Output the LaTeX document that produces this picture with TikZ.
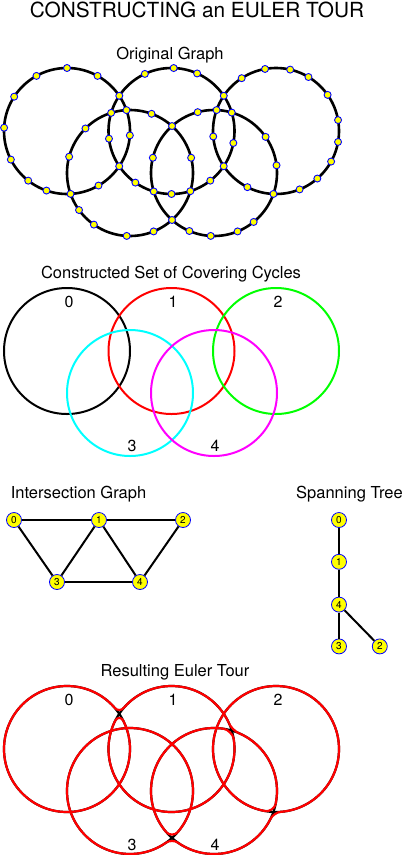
\documentclass[tikz,border=0pt]{standalone}
\usepackage{fontspec}
\setmainfont{TeX Gyre Heros}
\usetikzlibrary{calc, positioning, intersections}
\definecolor{pred}{RGB}{255,0,0}
\definecolor{pgreen}{RGB}{0,255,0}
\definecolor{pcyan}{RGB}{0,255,255}
\definecolor{pmagenta}{RGB}{255,0,255}
\definecolor{pyellow}{RGB}{255,255,0}
\definecolor{pblue}{RGB}{0,0,255}

\begin{document}
\begin{tikzpicture}[
    x=1pt, y=-1pt,
    title/.style={font=\fontsize{20.8}{24}\selectfont, anchor=base},
    caption/.style={font=\fontsize{16.5}{19}\selectfont, anchor=base},
    num/.style={font=\fontsize{16}{19}\selectfont, anchor=base},
    ring/.style={line width=2.6pt},
    cyc/.style={line width=2pt},
    tour/.style={line width=2.2pt},
    dot/.style={fill=pyellow, draw=pblue, line width=0.9pt},
    vtx/.style={circle, draw=pblue, fill=pyellow, line width=0.8pt, inner sep=0pt, minimum size=15pt, font=\fontsize{10}{10}\selectfont},
    edge/.style={line width=2pt}
]
    \useasboundingbox (0,0) rectangle (408,855);

    % 标题
    \node[title] (head) at (197,17.3) {CONSTRUCTING an EULER TOUR};

    % 原图
    \node[caption] (orig) at (170,59) {Original Graph};
    \foreach \i/\x/\y in {0/67/131, 1/171.5/131, 2/276/131, 3/130/173, 4/214/173}
        \draw[ring, name path global=g\i] (\x,\y) coordinate (g\i) circle (63pt);

    % 交点上的顶点
    \foreach \a/\b in {0/1, 1/2, 0/3, 1/3, 1/4, 2/4, 3/4} {
        \path[name intersections/.expanded={of=g\a\space and g\b, name=x\a\b}];
        \filldraw[dot] (x\a\b-1) circle (3.5pt) (x\a\b-2) circle (3.5pt);
    }

    % 圆上的其余顶点
    \foreach \i/\angs in {0/{61,90,119,147,177,207,232,251,300,356},
                          1/{66,88,115,187,235,270,308,349},
                          2/{10,35,59,77,100,123,185,243,292,311,331,350},
                          3/{14,70,135,165,216,235,267,292},
                          4/{7,35,105,166,247,267,292,309}}
        \foreach \t in \angs
            \filldraw[dot] ($(g\i)+(\t:63pt)$) circle (3.5pt);

    % 覆盖圈
    \node[caption] (cover) at (171,278) {Constructed Set of Covering Cycles};
    \foreach \i/\x/\y/\c in {0/67/351/black, 1/171.5/351/pred, 2/276/351/pgreen,
                             3/130/393/pcyan, 4/214/393/pmagenta}
        \draw[cyc, \c] (\x,\y) coordinate (k\i) circle (63pt);
    \foreach \i/\x/\y in {0/69/307, 1/173/307, 2/278/307, 3/132/451.5, 4/215/451.5}
        \node[num] (kl\i) at (\x,\y) {\i};

    % 交图
    \node[caption] (inter) at (78.5,498) {Intersection Graph};
    \node[vtx] (n0) at (14,520) {0};
    \node[vtx] (n1) at (99,520) {1};
    \node[vtx] (n2) at (183,520) {2};
    \node[vtx] (n3) at (57,582) {3};
    \node[vtx] (n4) at (140,582) {4};
    \foreach \a/\b in {0/1, 1/2, 0/3, 3/1, 1/4, 4/2, 3/4}
        \draw[edge] (n\a) -- (n\b);

    % 生成树
    \node[caption] (span) at (349.5,498) {Spanning Tree};
    \node[vtx] (t0) at (339,520) {0};
    \node[vtx, below=26pt of t0] (t1) {1};
    \node[vtx, below=27pt of t1] (t4) {4};
    \node[vtx, below=26pt of t4] (t3) {3};
    \node[vtx, right=25pt of t3] (t2) {2};
    \foreach \a/\b in {0/1, 1/4, 4/3, 4/2}
        \draw[edge] (t\a) -- (t\b);

    % 欧拉回路
    \node[caption] (euler) at (175,676.5) {Resulting Euler Tour};
    \foreach \i/\x/\y in {0/67/749, 1/171.5/749, 2/276/749, 3/130/791, 4/214/791}
        \draw[tour] (\x,\y) coordinate (e\i) circle (63pt);
    \foreach \i/\s/\e in {0/33.97/393.97, 1/17.04/146.03, 1/146.03/377.04,
                          2/267.65/627.65, 3/311.79/671.79, 4/73.65/228.21,
                          4/228.21/340.58, 4/340.58/433.65}
        \draw[tour, pred] ($(e\i)+(\s+7:63pt)$) arc[start angle=\s+7, end angle=\e-7, radius=63pt];
    % 拼接处
    \foreach \a/\ta/\da/\b/\tb/\db in {0/33.97/7/1/146.03/-7, 0/33.97/-7/1/146.03/7,
                                        4/73.65/7/1/17.04/-7, 1/17.04/7/4/73.65/-7,
                                        3/311.79/7/4/228.21/-7, 3/311.79/-7/4/228.21/7,
                                        4/340.58/7/2/267.65/-7, 4/340.58/-7/2/267.65/7} {
        \coordinate (sx) at ($(e\a)+(\ta:63pt)$);
        \coordinate (su) at ($(e\a)+(\ta+\da:63pt)$);
        \coordinate (sv) at ($(e\b)+(\tb+\db:63pt)$);
        \draw[tour, pred] (su) .. controls ($(su)!0.5!(sx)$) and ($(sv)!0.5!(sx)$) .. (sv);
    }
    \foreach \i/\x/\y in {0/69/705, 1/173/705, 2/278/705, 3/132/850, 4/215/850}
        \node[num] (el\i) at (\x,\y) {\i};
\end{tikzpicture}
\end{document}
